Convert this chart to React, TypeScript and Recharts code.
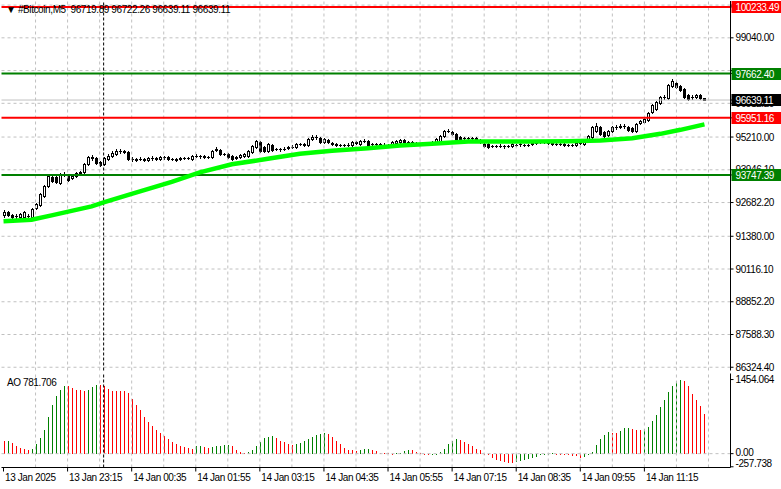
import { ComposedChart, Bar, Line, XAxis, YAxis, CartesianGrid, ReferenceLine, Cell } from 'recharts'

const FONT = "'Liberation Sans', Arial, sans-serif"
const FS = 10
const LS = -0.4

const chartTitle = '\u25BC #Bitcoin,M5  96719.89 96722.26 96639.11 96639.11'
const aoTitle = 'AO 781.706'

// M5 bars, [open, high, low, close]
const candles: number[][] = [
  [92207, 92400, 92130, 92323], [92323, 92362, 92169, 92207], [92207, 92246, 92092, 92130], [92169, 92246, 92092, 92175],
  [92130, 92285, 92092, 92246], [92130, 92362, 92092, 92323], [92169, 92246, 92092, 92175], [92130, 92478, 92092, 92439],
  [92478, 92671, 92439, 92632], [92593, 93057, 92555, 93018], [92941, 93366, 92902, 93327], [93327, 93790, 93289, 93713],
  [93675, 93752, 93482, 93520], [93675, 93713, 93443, 93482], [93443, 93829, 93404, 93790], [93790, 93868, 93713, 93752],
  [93752, 93790, 93520, 93559], [93636, 93752, 93597, 93713], [93713, 93868, 93675, 93829], [93829, 93906, 93790, 93868],
  [93868, 94215, 93829, 94176], [94176, 94485, 94138, 94447], [94447, 94524, 94331, 94408], [94408, 94447, 94176, 94215],
  [94254, 94292, 94099, 94138], [94176, 94447, 94138, 94408], [94369, 94562, 94331, 94485], [94485, 94678, 94447, 94601],
  [94562, 94755, 94524, 94678], [94678, 94755, 94601, 94685], [94678, 94717, 94601, 94640], [94640, 94678, 94331, 94369],
  [94369, 94447, 94292, 94375], [94369, 94408, 94292, 94331], [94369, 94447, 94331, 94362], [94369, 94408, 94292, 94331],
  [94331, 94447, 94292, 94408], [94408, 94485, 94331, 94400], [94408, 94447, 94331, 94369], [94369, 94485, 94331, 94447],
  [94447, 94485, 94369, 94440], [94447, 94485, 94331, 94369], [94369, 94408, 94331, 94362], [94369, 94408, 94292, 94331],
  [94369, 94447, 94331, 94408], [94408, 94447, 94369, 94400], [94408, 94447, 94369, 94415], [94369, 94524, 94331, 94485],
  [94485, 94562, 94447, 94478], [94485, 94524, 94408, 94490], [94485, 94524, 94408, 94447], [94447, 94485, 94408, 94440],
  [94447, 94717, 94408, 94678], [94717, 94833, 94678, 94755], [94717, 94755, 94524, 94562], [94562, 94601, 94524, 94555],
  [94562, 94601, 94408, 94447], [94485, 94524, 94331, 94369], [94408, 94485, 94369, 94447], [94447, 94562, 94408, 94524],
  [94485, 94601, 94447, 94562], [94485, 94717, 94447, 94678], [94640, 94910, 94601, 94871], [94833, 95103, 94794, 95064],
  [95026, 95064, 94640, 94678], [94833, 94871, 94640, 94678], [94678, 94987, 94640, 94948], [94910, 94948, 94678, 94717],
  [94755, 94794, 94717, 94748], [94755, 94794, 94678, 94762], [94755, 94833, 94717, 94748], [94794, 94871, 94755, 94833],
  [94833, 94910, 94794, 94826], [94833, 94987, 94794, 94948], [94948, 94987, 94910, 94941], [94948, 94987, 94871, 94910],
  [94910, 95180, 94871, 95141], [95141, 95296, 95103, 95219], [95219, 95296, 95141, 95212], [95180, 95219, 94987, 95026],
  [95026, 95180, 94987, 95141], [95103, 95141, 94987, 95026], [94987, 95026, 94910, 94948], [94948, 94987, 94871, 94910],
  [94910, 94948, 94871, 94903], [94910, 94948, 94871, 94917], [94910, 94987, 94871, 94903], [94910, 95064, 94871, 95026],
  [95026, 95064, 94948, 94987], [94948, 95103, 94910, 95064], [95064, 95141, 95026, 95057], [95064, 95103, 94871, 94910],
  [94948, 94987, 94910, 94941], [94948, 94987, 94910, 94955], [94948, 94987, 94871, 94910], [94910, 94987, 94871, 94917],
  [94910, 94948, 94833, 94903], [94910, 95064, 94871, 95026], [94987, 95103, 94948, 95064], [95026, 95141, 94987, 95103],
  [95103, 95141, 94987, 95026], [95026, 95064, 94987, 95019], [95026, 95064, 94948, 94987], [94987, 95026, 94910, 94948],
  [94948, 94987, 94910, 94941], [94948, 95026, 94910, 94987], [94987, 95026, 94948, 94980], [94987, 95064, 94948, 95026],
  [95026, 95180, 94987, 95141], [95064, 95296, 95026, 95257], [95257, 95489, 95219, 95450], [95450, 95527, 95412, 95443],
  [95412, 95450, 95296, 95334], [95334, 95373, 95103, 95141], [95219, 95257, 95064, 95103], [95180, 95219, 95103, 95173],
  [95180, 95219, 95141, 95187], [95180, 95219, 95141, 95173], [95180, 95219, 95064, 95103], [95103, 95141, 94987, 95026],
  [94948, 94987, 94833, 94871], [94948, 94987, 94794, 94833], [94871, 94910, 94833, 94864], [94871, 94910, 94833, 94878],
  [94871, 94948, 94833, 94864], [94871, 94910, 94794, 94878], [94871, 94910, 94833, 94864], [94871, 94987, 94833, 94948],
  [94910, 94948, 94871, 94903], [94948, 94987, 94871, 94941], [94910, 94948, 94871, 94917], [94910, 94948, 94871, 94903],
  [94948, 95026, 94910, 94987], [94987, 95064, 94948, 95026], [95026, 95064, 94987, 95019], [95026, 95064, 94987, 95033],
  [95026, 95064, 94948, 94987], [94987, 95026, 94910, 94948], [94948, 94987, 94910, 94941], [94948, 94987, 94910, 94955],
  [94948, 94987, 94871, 94910], [94910, 94948, 94871, 94903], [94910, 94948, 94871, 94917], [94910, 95026, 94871, 94987],
  [94987, 95064, 94948, 95026], [94948, 95103, 94910, 95064], [95064, 95296, 95026, 95257], [95219, 95643, 95180, 95605],
  [95450, 95759, 95412, 95643], [95605, 95643, 95296, 95334], [95412, 95450, 95219, 95257], [95296, 95489, 95257, 95450],
  [95450, 95643, 95412, 95605], [95605, 95682, 95527, 95598], [95605, 95720, 95566, 95643], [95643, 95720, 95566, 95636],
  [95605, 95643, 95450, 95489], [95566, 95605, 95412, 95450], [95450, 95759, 95412, 95720], [95759, 95875, 95720, 95836],
  [95798, 95952, 95759, 95913], [95875, 96184, 95836, 96145], [96184, 96492, 96145, 96454], [96299, 96608, 96261, 96570],
  [96531, 96801, 96492, 96763], [96763, 96840, 96685, 96756], [96724, 97264, 96685, 97226], [97187, 97457, 97149, 97380],
  [97303, 97342, 97110, 97149], [97187, 97226, 96994, 97033], [97071, 97110, 96724, 96763], [96840, 96878, 96647, 96685],
  [96763, 96840, 96685, 96756], [96763, 96878, 96724, 96840], [96840, 96878, 96685, 96724], [96719.89, 96722.26, 96639.11, 96639.11],
]

// Awesome Oscillator, one value per bar
const aoValues = [
  245, 248, 212, 145, 112, 99, 66, 86, 185, 311, 463, 714, 959, 1137, 1243, 1336,
  1323, 1290, 1256, 1243, 1223, 1256, 1309, 1356, 1342, 1329, 1270, 1237, 1233, 1230, 1223, 1190,
  1071, 959, 860, 714, 628, 542, 463, 397, 344, 278, 231, 185, 145, 132, 112, 99,
  145, 152, 132, 119, 132, 145, 159, 172, 179, 145, 79, 33, 13, 33, 66, 155,
  238, 298, 331, 350, 298, 245, 231, 185, 165, 198, 212, 245, 278, 331, 364, 384,
  410, 384, 317, 245, 185, 119, 79, 66, 53, 79, 86, 93, 66, 46, 20, 7,
  3, 1, 4, 13, 46, 66, 63, 33, 7, -20, -33, -26, -7, 33, 99, 185,
  251, 278, 265, 231, 185, 145, 99, 66, -13, -33, -79, -119, -152, -172, -185, -192,
  -172, -145, -132, -112, -93, -66, -33, -20, -7, 13, -1, -7, -13, -33, -46, -53,
  -79, -73, -33, 33, 165, 278, 364, 417, 410, 403, 443, 496, 503, 476, 463, 456,
  476, 529, 648, 760, 906, 1058, 1204, 1323, 1435, 1454, 1435, 1336, 1177, 1045, 926, 782,
]

// moving average read at selected bars: [bar, value]
const maPoints: [number, number][] = [
  [0, 91957], [7, 92015], [12, 92188], [17, 92362], [22, 92536], [25, 92690], [32, 93018], [37, 93250],
  [42, 93482], [49, 93848], [57, 94157], [66, 94369], [74, 94562], [82, 94678], [91, 94782], [99, 94883],
  [107, 94948], [116, 95037], [124, 95037], [132, 95040], [141, 95045], [149, 95076], [157, 95161],
  [164, 95334], [169, 95489], [175, 95701],
]

const timeLabels = [
  '13 Jan 2025', '13 Jan 23:15', '14 Jan 00:35', '14 Jan 01:55', '14 Jan 03:15', '14 Jan 04:35',
  '14 Jan 05:55', '14 Jan 07:15', '14 Jan 08:35', '14 Jan 09:55', '14 Jan 11:15',
]
const labelBars = [0, 16, 32, 48, 64, 80, 96, 112, 128, 144, 160]
const gridBars = [8, 16, 24, 32, 40, 48, 56, 64, 72, 80, 88, 96, 104, 112, 120, 128, 136, 144, 152, 160, 168, 176]
const priceTicks = [100303.9, 99040, 97776.1, 96512.2, 95210, 93946.1, 92682.2, 91380, 90116.1, 88852.2, 87588.3, 86324.4]
const hiddenPriceTicks = [100303.9, 97776.1]
const levels = [
  { value: 100233.49, color: '#FF0000', text: '100233.49' },
  { value: 97662.4, color: '#008000', text: '97662.40' },
  { value: 95951.16, color: '#FF0000', text: '95951.16' },
  { value: 93747.39, color: '#008000', text: '93747.39' },
]
const lastPrice = 96639.11
const markerBar = 25
const slotCount = 182
const aoTicks = [1454.064, 0, -257.738]

// level tags are drawn as the last ticks of the price axis so they sit on top of the grid labels
const tags = [...levels, { value: lastPrice, color: '#000', text: '96639.11' }]
const axisTicks = [...priceTicks, ...tags.map((t) => t.value)]

const rows = Array.from({ length: slotCount }, (_, i) => {
  const k = candles[i]
  const m = maPoints.find((p) => p[0] === i)
  return {
    idx: i,
    range: k ? [k[2], k[1]] : null,
    o: k ? k[0] : null,
    h: k ? k[1] : null,
    l: k ? k[2] : null,
    c: k ? k[3] : null,
    ma: m ? m[1] : null,
    ao: i < aoValues.length ? aoValues[i] : null,
  }
})

const CandleShape = (props: any) => {
  const { x, y, width, height, payload } = props
  if (!payload || payload.o == null) return null
  const { o, h, l, c } = payload
  const top = Math.min(y, y + height)
  const bottom = Math.max(y, y + height)
  const span = h - l || 1
  const yOf = (v: number) => Math.round(top + ((h - v) / span) * (bottom - top))
  const px = Math.floor(x + width / 2)
  const bTop = yOf(Math.max(o, c))
  const bBot = yOf(Math.min(o, c))
  const up = c >= o
  return (
    <g shapeRendering="crispEdges">
      <rect x={px} y={yOf(h)} width={1} height={yOf(l) - yOf(h) + 1} fill="#000" />
      <rect x={px - 1} y={bTop} width={3} height={Math.max(1, bBot - bTop + 1)} fill="#000" />
      {up && bBot - bTop > 1 && <rect x={px} y={bTop + 1} width={1} height={bBot - bTop - 1} fill="#fff" />}
    </g>
  )
}

const AoBar = (props: any) => {
  const { x, y, width, height, fill } = props
  if (height == null || isNaN(height)) return null
  const top = Math.round(Math.min(y, y + height))
  const bottom = Math.round(Math.max(y, y + height))
  return <rect x={Math.floor(x + width / 2)} y={top} width={1} height={Math.max(1, bottom - top)} fill={fill} shapeRendering="crispEdges" />
}

const PriceTick = (props: any) => {
  const { x, y, payload } = props
  const tag = tags.find((t) => t.value === payload.value)
  if (tag) {
    const yy = Math.round(y)
    return (
      <g>
        <rect x={x - 4} y={yy - 6} width={50} height={12} fill={tag.color} />
        <text x={x} y={yy} dy={3.6} fill="#fff" fontSize={FS} letterSpacing={LS} fontFamily={FONT}>
          {tag.text}
        </text>
      </g>
    )
  }
  if (hiddenPriceTicks.includes(payload.value)) return null
  return (
    <text x={x} y={y} dy={3.6} fill="#000" fontSize={FS} letterSpacing={LS} fontFamily={FONT} textAnchor="start">
      {payload.value.toFixed(2)}
    </text>
  )
}

const AoTick = (props: any) => {
  const { x, y, payload } = props
  const v = payload.value
  const text = v === 0 ? '0.00' : String(v)
  return (
    <text x={x} y={y} dy={v < 0 ? 0 : v === 0 ? 2.6 : 3.6} fill="#000" fontSize={FS} letterSpacing={LS} fontFamily={FONT} textAnchor="start">
      {text}
    </text>
  )
}

const TimeTick = (props: any) => {
  const { x, y, payload } = props
  const label = timeLabels[labelBars.indexOf(payload.value)]
  return (
    <text x={x + 1.5} y={y} dy={7.5} fill="#000" fontSize={FS} letterSpacing={LS} fontFamily={FONT} textAnchor="start">
      {label}
    </text>
  )
}

const gridStroke = '#C0C0C0'

export default function App() {
  return (
    <div style={{ position: 'absolute', left: 0, top: 0, width: 781, height: 489, background: '#fff', fontFamily: FONT }}>
      <div style={{ position: 'absolute', left: 0, top: 0 }}>
        <ComposedChart width={781} height={372} data={rows} margin={{ top: 1, right: 0, bottom: 1.5, left: 1.5 }}>
          <CartesianGrid yAxisId="price" vertical={false} horizontalValues={priceTicks} stroke={gridStroke} strokeDasharray="3 3" />
          {gridBars.map((b) => (
            <ReferenceLine key={`g${b}`} x={b} yAxisId="price" stroke={gridStroke} strokeDasharray="3 3" />
          ))}
          <XAxis dataKey="idx" type="category" height={0} tick={false} tickLine={false} axisLine={{ stroke: '#000' }} />
          <YAxis yAxisId="frame" orientation="left" width={0} domain={[86198.7, 100461.4]} tick={false} tickLine={false} axisLine={{ stroke: '#000' }} />
          <YAxis
            yAxisId="price"
            orientation="right"
            width={50.5}
            domain={[86198.7, 100461.4]}
            allowDataOverflow
            ticks={axisTicks}
            interval={0}
            tick={<PriceTick />}
            tickSize={3}
            tickMargin={2}
            tickLine={{ stroke: '#000' }}
            axisLine={{ stroke: '#000' }}
          />
          <ReferenceLine x={markerBar} yAxisId="price" stroke="#000" strokeDasharray="3 2" />
          <ReferenceLine y={lastPrice} yAxisId="price" stroke={gridStroke} />
          {levels.map((lv) => (
            <ReferenceLine key={lv.text} y={lv.value} yAxisId="price" stroke={lv.color} strokeWidth={2} />
          ))}
          <Bar yAxisId="price" dataKey="range" barSize={3} shape={<CandleShape />} isAnimationActive={false} />
          <Line yAxisId="price" dataKey="ma" connectNulls dot={false} stroke="#00FF00" strokeWidth={4.5} isAnimationActive={false} />
        </ComposedChart>
      </div>
      <div style={{ position: 'absolute', left: 0, top: 372 }}>
        <ComposedChart width={781} height={117} data={rows} margin={{ top: 1.5, right: 0, bottom: 0, left: 1.5 }}>
          {gridBars.map((b) => (
            <ReferenceLine key={`ag${b}`} x={b} yAxisId="ao" stroke={gridStroke} strokeDasharray="3 3" />
          ))}
          <ReferenceLine y={0} yAxisId="ao" stroke={gridStroke} strokeDasharray="3 3" />
          <XAxis
            dataKey="idx"
            type="category"
            height={21.5}
            ticks={labelBars}
            interval={0}
            tick={<TimeTick />}
            tickSize={4}
            tickMargin={2}
            tickLine={{ stroke: '#000' }}
            axisLine={{ stroke: '#000' }}
          />
          <XAxis xAxisId="top" dataKey="idx" orientation="top" height={0} tick={false} tickLine={false} axisLine={{ stroke: '#000' }} />
          <YAxis yAxisId="frame" orientation="left" width={0} domain={[-272, 1573]} tick={false} tickLine={false} axisLine={{ stroke: '#000' }} />
          <YAxis
            yAxisId="ao"
            orientation="right"
            width={50.5}
            domain={[-272, 1573]}
            allowDataOverflow
            ticks={aoTicks}
            interval={0}
            tick={<AoTick />}
            tickSize={3}
            tickMargin={2}
            tickLine={{ stroke: '#000' }}
            axisLine={{ stroke: '#000' }}
          />
          <ReferenceLine x={markerBar} yAxisId="ao" stroke="#000" strokeDasharray="3 2" />
          <Bar yAxisId="ao" dataKey="ao" barSize={1} shape={<AoBar />} isAnimationActive={false}>
            {rows.map((r, i) => (
              <Cell key={`ao${i}`} fill={i > 0 && r.ao != null && rows[i - 1].ao != null && r.ao > (rows[i - 1].ao as number) ? '#008000' : '#FF0000'} />
            ))}
          </Bar>
        </ComposedChart>
      </div>
      <div style={{ position: 'absolute', left: 6, top: 4, fontSize: FS, letterSpacing: LS, lineHeight: '12px', whiteSpace: 'pre', color: '#000' }}>
        {chartTitle}
      </div>
      <div style={{ position: 'absolute', left: 7, top: 377, fontSize: FS, letterSpacing: LS, lineHeight: '12px', whiteSpace: 'pre', color: '#000' }}>
        {aoTitle}
      </div>
    </div>
  )
}
